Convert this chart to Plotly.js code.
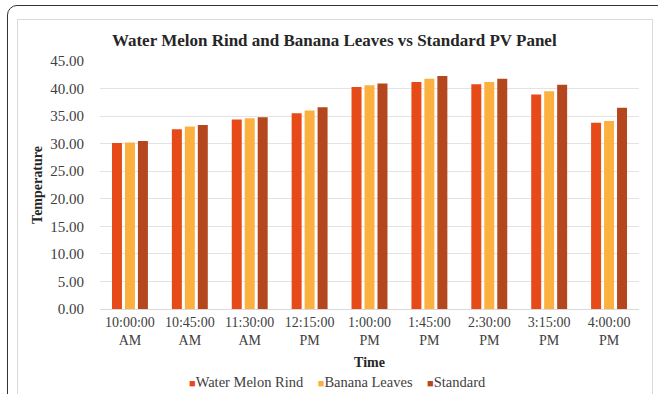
<!DOCTYPE html>
<html>
<head>
<meta charset="utf-8">
<script src="https://cdn.plot.ly/plotly-3.0.1.min.js"></script>
<style>
html,body{margin:0;padding:0;background:#fff;}
#wrap{position:relative;width:658px;height:394px;overflow:hidden;}
#outer{position:absolute;left:7px;top:5px;width:660px;height:420px;border:1.5px solid #333;border-radius:10px;box-sizing:border-box;}
#inner{position:absolute;left:17px;top:19px;width:636px;height:400px;border:1px solid #d9d9d9;box-sizing:border-box;}
#chart{position:absolute;left:0;top:0;width:658px;height:394px;}
</style>
</head>
<body>
<div id="wrap">
<div id="outer"></div>
<div id="inner"></div>
<div id="chart"></div>
</div>
<script>
const categories = ["10:00:00<br>AM","10:45:00<br>AM","11:30:00<br>AM","12:15:00<br>PM","1:00:00<br>PM","1:45:00<br>PM","2:30:00<br>PM","3:15:00<br>PM","4:00:00<br>PM"];
const waterMelonRind = [30.1, 32.6, 34.4, 35.5, 40.3, 41.2, 40.8, 38.9, 33.8];
const bananaLeaves   = [30.2, 33.1, 34.6, 36.0, 40.6, 41.8, 41.2, 39.5, 34.1];
const standard       = [30.5, 33.4, 34.8, 36.6, 40.9, 42.3, 41.8, 40.7, 36.5];
const seriesNames = ["Water Melon Rind", "Banana Leaves", "Standard"];
const colors = ["#E64A19", "#FBB040", "#B5471F"];

const serif = "'Liberation Serif', 'Times New Roman', 'DejaVu Serif', serif";
const series = [waterMelonRind, bananaLeaves, standard];
const traces = series.map((vals, i) => ({
  type: "bar", x: categories, y: vals, name: seriesNames[i],
  marker: {color: colors[i]}, showlegend: false, hoverinfo: "x+y+name"
}));

const legendText = seriesNames.map((n, i) =>
  `<span style="color:${colors[i]};font-size:11px">■</span>${n}`).join("&nbsp;&nbsp;&nbsp;&nbsp;");

const layout = {
  width: 658, height: 394,
  margin: {l: 100, r: 19, t: 61, b: 85, pad: 0},
  paper_bgcolor: "rgba(0,0,0,0)", plot_bgcolor: "rgba(0,0,0,0)",
  barmode: "group", bargap: 0.35, bargroupgap: 0.23,
  font: {family: serif, size: 14, color: "#404040"},
  title: {text: "<b>Water Melon Rind and Banana Leaves vs Standard PV Panel</b>",
          font: {family: serif, size: 17, color: "#262626"},
          x: 0.508, xanchor: "center", y: 0.898, yanchor: "middle"},
  xaxis: {
    type: "category", showgrid: false, showline: true, linecolor: "#d9d9d9", linewidth: 1,
    ticks: "", tickfont: {family: serif, size: 14, color: "#404040"},
    title: {text: "<b>Time</b>", font: {family: serif, size: 14, color: "#262626"}, standoff: 10},
    automargin: false
  },
  yaxis: {
    range: [0, 45], dtick: 5, tickformat: ".2f",
    showgrid: true, gridcolor: "#e3e3e3", gridwidth: 1, zeroline: false,
    showline: false, ticks: "", ticklabelstandoff: 15,
    tickfont: {family: serif, size: 15, color: "#404040"},
    title: {text: "<b>Temperature</b>", font: {family: serif, size: 14, color: "#262626"}, standoff: 4},
    automargin: false
  },
  annotations: [{
    xref: "paper", yref: "paper", x: 0.44, y: -0.296, xanchor: "center", yanchor: "middle",
    showarrow: false, text: legendText, font: {family: serif, size: 14.5, color: "#404040"}
  }]
};

Plotly.newPlot("chart", traces, layout, {displayModeBar: false, staticPlot: true});
</script>
</body>
</html>
